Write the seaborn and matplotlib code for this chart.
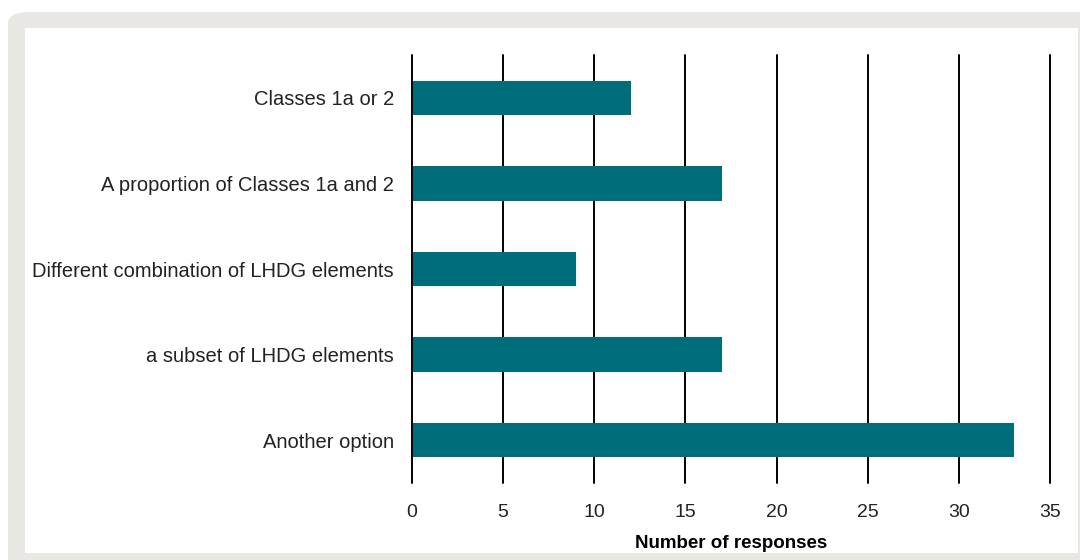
import matplotlib
matplotlib.use("Agg")
import matplotlib.pyplot as plt
from matplotlib.patches import FancyBboxPatch, Rectangle
import pandas as pd
import seaborn as sns

# data
categories = [
    "Classes 1a or 2",
    "A proportion of Classes 1a and 2",
    "Different combination of LHDG elements",
    "a subset of LHDG elements",
    "Another option",
]
responses = [12, 17, 9, 17, 33]
x_ticks = [0, 5, 10, 15, 20, 25, 30, 35]

BAR_COLOR = "#006d7a"
FRAME_COLOR = "#e8e7e3"

df = pd.DataFrame({"option": categories, "count": responses})

sns.set_theme(style="white")
plt.rcParams["font.family"] = ["Liberation Sans", "DejaVu Sans"]

fig = plt.figure(figsize=(10.8, 5.6), dpi=100)
W, H = 1080, 560

# grey frame with rounded corner, white panel inside
frame = FancyBboxPatch((8 / W, -0.1), 1.2, (560 - 12) / H + 0.1,
                       boxstyle="round,pad=0,rounding_size=0.02",
                       transform=fig.transFigure, facecolor=FRAME_COLOR,
                       edgecolor="none", zorder=-2)
fig.patches.append(frame)
panel = Rectangle((25 / W, (560 - 553) / H), (1078 - 25) / W, (553 - 28) / H,
                  transform=fig.transFigure, facecolor="white",
                  edgecolor="none", zorder=-1)
fig.patches.append(panel)

ax = fig.add_axes([412 / W, (560 - 483) / H, (1050 - 412) / W, (483 - 55) / H])
ax.set_zorder(1)
ax.set_facecolor("none")

sns.barplot(data=df, x="count", y="option", orient="h", color=BAR_COLOR,
            width=0.4, saturation=1, linewidth=0, ax=ax, zorder=3)

ax.set_xlim(0, 35)
ax.set_ylim(4.5, -0.5)
ax.set_xticks(x_ticks)
for v in x_ticks:
    ax.axvline(v, color="black", lw=1.4, zorder=4 if v == 0 else 2,
               clip_on=False)

sns.despine(ax=ax, left=True, bottom=True, top=True, right=True)
ax.tick_params(axis="x", length=0, pad=15, labelsize=14, colors="#222222")
ax.tick_params(axis="y", length=0, pad=13, labelsize=14.5, colors="#222222")
ax.set_ylabel("")
ax.set_xlabel("Number of responses", fontsize=13.5, fontweight="bold",
              labelpad=10, color="black")

fig.savefig("out.png", dpi=100)
